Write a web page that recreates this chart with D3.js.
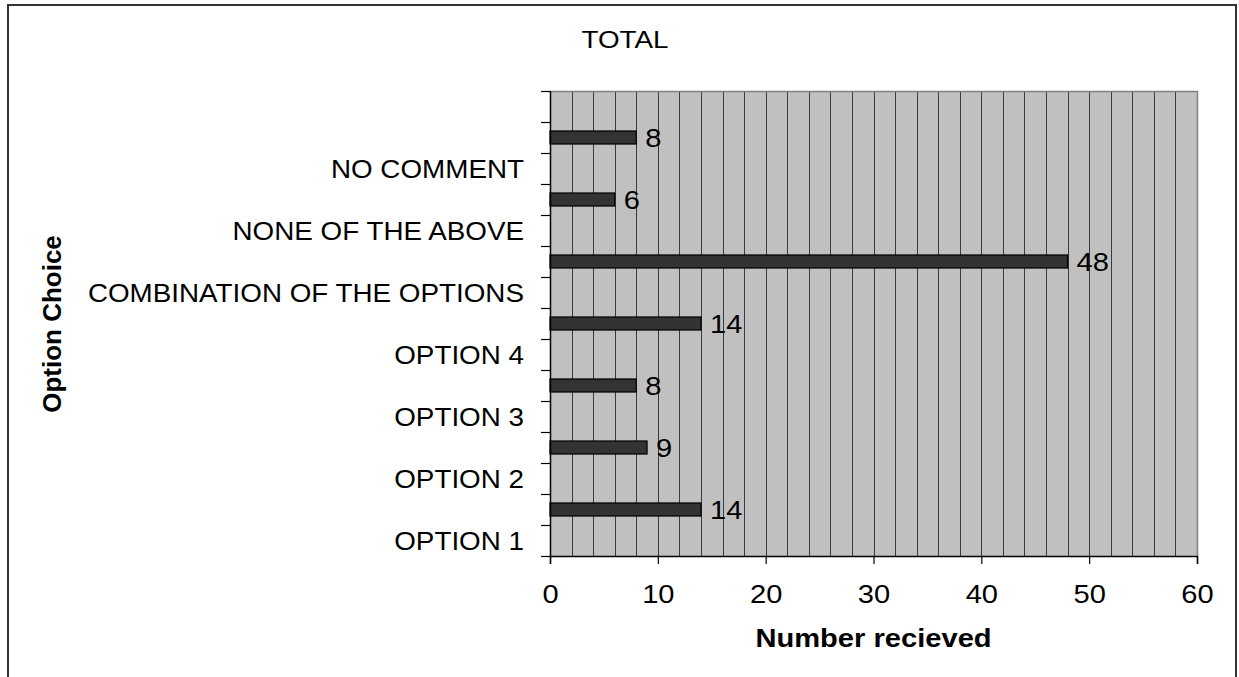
<!DOCTYPE html>
<html>
<head>
<meta charset="utf-8">
<script src="https://cdn.jsdelivr.net/npm/d3@7"></script>
<style>
  html, body { margin: 0; padding: 0; background: #fff; }
  svg { display: block; font-family: "Liberation Sans", Arial, sans-serif; }
</style>
</head>
<body>
<svg id="chart" width="1239" height="677"></svg>
<script>
// Category slots, bottom to top (labels sit on alternate slots, as in the original)
const categories = ["OPTION 1", "s1", "OPTION 2", "s3", "OPTION 3", "s5", "OPTION 4", "s7",
  "COMBINATION OF THE OPTIONS", "s9", "NONE OF THE ABOVE", "s11", "NO COMMENT", "s13", "s14"];
const categoryLabels = ["OPTION 1", "", "OPTION 2", "", "OPTION 3", "", "OPTION 4", "",
  "COMBINATION OF THE OPTIONS", "", "NONE OF THE ABOVE", "", "NO COMMENT", "", ""];
const values = [null, 14, null, 9, null, 8, null, 14, null, 48, null, 6, null, 8, null];
const xTicks = [0, 10, 20, 30, 40, 50, 60];
const gridValues = d3.range(0, 61, 2);
const title = "TOTAL";
const xTitle = "Number recieved";
const yTitle = "Option Choice";

const svg = d3.select("#chart");
const m = { left: 550, right: 1197, top: 91, bottom: 556 };
const SX = 1.1; // horizontal stretch of the original's lettering

// outer frame
svg.append("rect").attr("x", 8).attr("y", 5).attr("width", 1228).attr("height", 700)
  .attr("fill", "none").attr("stroke", "#333").attr("stroke-width", 2);

const x = d3.scaleLinear().domain([0, 60]).range([m.left, m.right]);
const y = d3.scaleBand().domain(categories.slice().reverse()).range([m.top, m.bottom]).padding(0);

// plot background
svg.append("rect").attr("x", m.left).attr("y", m.top)
  .attr("width", m.right - m.left).attr("height", m.bottom - m.top)
  .attr("fill", "#c0c0c0");

// vertical gridlines
svg.append("g").selectAll("line").data(gridValues).join("line")
  .attr("x1", d => Math.round(x(d)) + 0.5).attr("x2", d => Math.round(x(d)) + 0.5)
  .attr("y1", m.top).attr("y2", m.bottom)
  .attr("stroke", "#3a3a3a").attr("stroke-width", 1);

// plot top & right border
svg.append("path")
  .attr("d", `M${m.left},${m.top + 0.5}H${m.right + 0.5}V${m.bottom}`)
  .attr("fill", "none").attr("stroke", "#808080").attr("stroke-width", 1.5);

// bars
const bw = y.bandwidth();
const barData = categories.map((c, i) => ({ c, v: values[i] })).filter(d => d.v != null);
svg.append("g").selectAll("rect").data(barData).join("rect")
  .attr("x", x(0))
  .attr("y", d => y(d.c) + bw * 0.29)
  .attr("width", d => x(d.v) - x(0))
  .attr("height", bw * 0.42)
  .attr("fill", "#333333").attr("stroke", "#000").attr("stroke-width", 1.2);

// bar value labels
svg.append("g").selectAll("text").data(barData).join("text")
  .attr("transform", d => `translate(${x(d.v) + 9},${y(d.c) + bw / 2}) scale(${SX + 0.02},1)`)
  .attr("dy", "0.36em")
  .attr("font-size", 26).attr("fill", "#000")
  .text(d => d.v);

// y axis (ticks at band boundaries)
const yAxisG = svg.append("g");
const boundaries = categories.map(c => y(c)).concat([m.bottom]);
yAxisG.selectAll("line.tick").data(boundaries).join("line")
  .attr("x1", m.left - 9).attr("x2", m.left)
  .attr("y1", d => Math.round(d) + 0.5).attr("y2", d => Math.round(d) + 0.5)
  .attr("stroke", "#000").attr("stroke-width", 1.2);
yAxisG.append("line").attr("x1", m.left + 0.5).attr("x2", m.left + 0.5)
  .attr("y1", m.top).attr("y2", m.bottom).attr("stroke", "#000").attr("stroke-width", 1.5);

// category labels
svg.append("g").selectAll("text").data(categories).join("text")
  .attr("transform", d => `translate(524,${y(d) + bw / 2}) scale(${SX - 0.03},1)`)
  .attr("dy", "0.36em")
  .attr("text-anchor", "end")
  .attr("font-size", 26).attr("fill", "#000")
  .text((d, i) => categoryLabels[i]);

// x axis
const xAxis = d3.axisBottom(x).tickValues(xTicks).tickSize(8).tickPadding(21);
const xg = svg.append("g").attr("transform", `translate(0,${m.bottom})`).call(xAxis);
xg.select(".domain").attr("stroke", "#000").attr("stroke-width", 1.5);
xg.selectAll(".tick line").attr("stroke", "#000").attr("stroke-width", 1.2);
xg.selectAll(".tick text").attr("font-size", 26).attr("fill", "#000")
  .attr("font-family", "'Liberation Sans', Arial, sans-serif")
  .attr("transform", `scale(${SX + 0.02},1)`);

// titles
svg.append("text").attr("transform", `translate(625,48) scale(${SX + 0.06},1)`)
  .attr("text-anchor", "middle")
  .attr("font-size", 24).attr("fill", "#000").text(title);
svg.append("text").attr("transform", `translate(${(m.left + m.right) / 2},647) scale(${SX + 0.02},1)`)
  .attr("text-anchor", "middle")
  .attr("font-size", 26).attr("font-weight", "bold").attr("fill", "#000").text(xTitle);
svg.append("text").attr("transform", `translate(61,324) rotate(-90)`)
  .attr("text-anchor", "middle")
  .attr("font-size", 26).attr("font-weight", "bold").attr("fill", "#000").text(yTitle);
</script>
</body>
</html>
